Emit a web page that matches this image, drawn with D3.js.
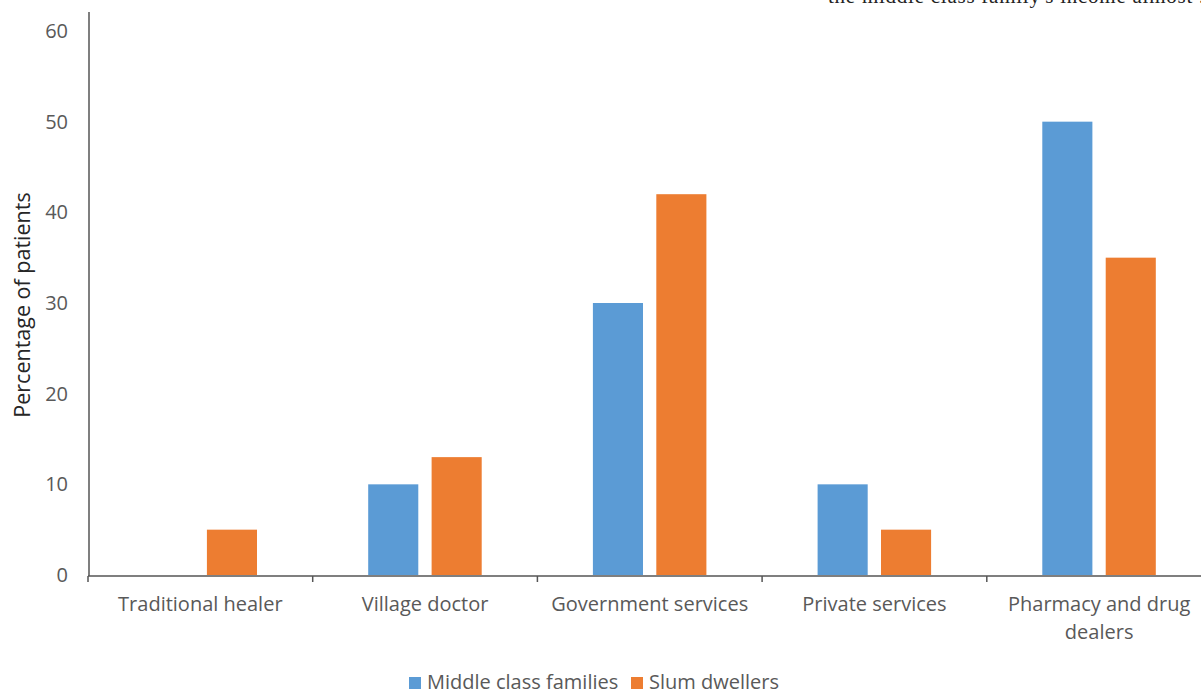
<!DOCTYPE html>
<html>
<head>
<meta charset="utf-8">
<script src="https://cdn.jsdelivr.net/npm/d3@7"></script>
<style>
  body { margin: 0; background: #fff; }
  svg { display: block; }
  .tick-label { font-family: "Open Sans", sans-serif; font-size: 20px; fill: #595959; }
</style>
</head>
<body>
<svg id="chart" width="1201" height="690"></svg>
<script>
var categories = [["Traditional healer"], ["Village doctor"], ["Government services"], ["Private services"], ["Pharmacy and drug", "dealers"]];
var seriesNames = ["Middle class families", "Slum dwellers"];
var middleClass = [0, 10, 30, 10, 50];
var slumDwellers = [5, 13, 42, 5, 35];
var yTicks = [0, 10, 20, 30, 40, 50, 60];
var colors = ["#5B9BD5", "#ED7D31"];

var svg = d3.select("#chart");
var keys = categories.map(function(c) { return c.join(" "); });

var x0 = d3.scaleBand().domain(keys).range([88, 1211.5]).padding(0);
var x1 = d3.scaleBand().domain(seriesNames).range([55.5, 169]).paddingInner(0.21);
var y = d3.scaleLinear().domain([0, 60]).range([575, 31]);

// cut-off line of body text above the figure
svg.append("text")
  .attr("x", 828).attr("y", 3)
  .attr("font-family", "Liberation Serif, serif")
  .attr("font-size", 21)
  .attr("textLength", 390)
  .attr("fill", "#222")
  .text("the middle class family's income almost . (");

// bars
var series = [middleClass, slumDwellers];
series.forEach(function(vals, si) {
  svg.append("g").selectAll("rect")
    .data(vals)
    .enter().append("rect")
      .attr("x", function(d, i) { return x0(keys[i]) + x1(seriesNames[si]); })
      .attr("y", function(d) { return y(d); })
      .attr("width", x1.bandwidth())
      .attr("height", function(d) { return y(0) - y(d); })
      .attr("fill", colors[si]);
});

// y axis
var yAxis = svg.append("g");
yAxis.append("line")
  .attr("x1", 89).attr("x2", 89).attr("y1", 12).attr("y2", y(0) + 1)
  .attr("stroke", "#555").attr("stroke-width", 1.5);
yAxis.selectAll("text")
  .data(yTicks)
  .enter().append("text")
    .attr("class", "tick-label")
    .attr("x", 68).attr("y", function(d) { return y(d); })
    .attr("dy", "0.35em")
    .attr("text-anchor", "end")
    .text(function(d) { return d; });

svg.append("text")
  .attr("transform", "translate(30," + 305 + ") rotate(-90)")
  .attr("text-anchor", "middle")
  .attr("font-family", "Open Sans, sans-serif")
  .attr("font-size", 21.5)
  .attr("fill", "#262626")
  .text("Percentage of patients");

// x axis
var xAxis = svg.append("g");
xAxis.append("line")
  .attr("x1", 88).attr("x2", 1201).attr("y1", y(0) + 1).attr("y2", y(0) + 1)
  .attr("stroke", "#555").attr("stroke-width", 1.5);
xAxis.selectAll(".xtick")
  .data(keys)
  .enter().append("line")
    .attr("x1", function(d) { return x0(d); })
    .attr("x2", function(d) { return x0(d); })
    .attr("y1", y(0) + 1).attr("y2", y(0) + 7)
    .attr("stroke", "#555").attr("stroke-width", 1.5);

var labels = xAxis.selectAll(".xl")
  .data(categories)
  .enter().append("text")
    .attr("class", "tick-label")
    .attr("text-anchor", "middle")
    .attr("x", function(d, i) { return x0(keys[i]) + x0.bandwidth() / 2; })
    .attr("y", 611);
labels.selectAll("tspan")
  .data(function(d) { return d; })
  .enter().append("tspan")
    .attr("x", function() { return d3.select(this.parentNode).attr("x"); })
    .attr("dy", function(d, i) { return i === 0 ? 0 : 28; })
    .text(function(d) { return d; });

// legend
var legendX = [409, 631];
var legend = svg.append("g");
seriesNames.forEach(function(name, i) {
  legend.append("rect")
    .attr("x", legendX[i]).attr("y", 677)
    .attr("width", 12).attr("height", 12)
    .attr("fill", colors[i]);
  legend.append("text")
    .attr("class", "tick-label")
    .attr("x", legendX[i] + 18).attr("y", 689)
    .text(name);
});
</script>
</body>
</html>
